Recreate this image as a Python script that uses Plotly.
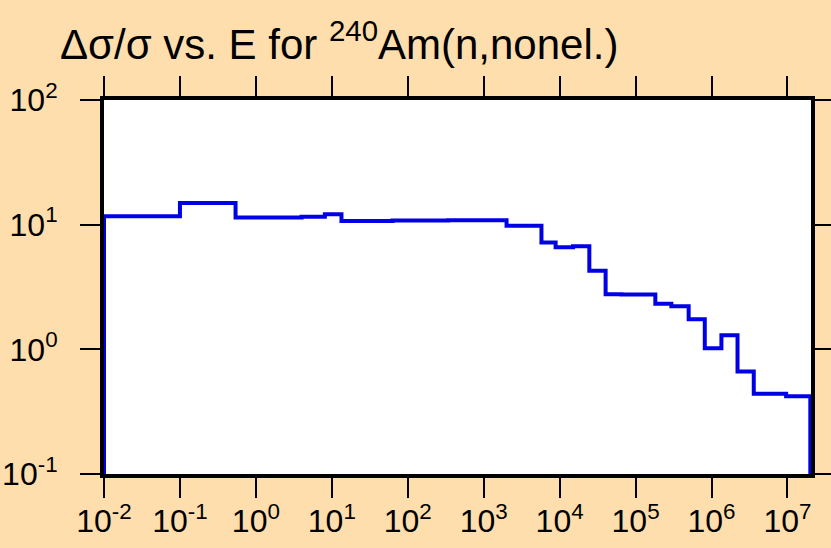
import plotly.graph_objects as go

# Energy bin edges (eV) and relative uncertainty values (%) per bin
energy_edges = [1e-2, 0.1, 0.54, 4.0, 8.1, 13.4, 63.0, 340.0, 2.0e3, 5.76e3, 8.85e3,
                1.5e4, 2.46e4, 4.03e4, 6.5e4, 1.82e5, 2.96e5, 5.0e5, 8.15e5,
                1.35e6, 2.2e6, 3.6e6, 9.6e6, 2.0e7]
rel_unc = [11.7, 14.9, 11.4, 11.6, 12.1, 10.7, 10.8, 10.85, 9.8, 7.2, 6.6,
           6.7, 4.26, 2.77, 2.75, 2.32, 2.22, 1.74, 1.02, 1.30, 0.665, 0.44, 0.42]

x_tickvals = [1e-2, 1e-1, 1e0, 1e1, 1e2, 1e3, 1e4, 1e5, 1e6, 1e7]
x_ticktext = ["10<sup>-2</sup>", "10<sup>-1</sup>", "10<sup>0</sup>", "10<sup>1</sup>",
              "10<sup>2</sup>", "10<sup>3</sup>", "10<sup>4</sup>", "10<sup>5</sup>",
              "10<sup>6</sup>", "10<sup>7</sup>"]
y_tickvals = [1e-1, 1e0, 1e1, 1e2]
y_ticktext = ["10<sup>-1</sup>", "10<sup>0</sup>", "10<sup>1</sup>", "10<sup>2</sup>"]

title_text = "Δσ/σ vs. E for <sup>240</sup>Am(n,nonel.)"

# Build histogram-style step outline, closed down to the axis floor at both ends
y_floor = y_tickvals[0]
xs = [energy_edges[0]]
ys = [y_floor]
for i, v in enumerate(rel_unc):
    xs += [energy_edges[i], energy_edges[i + 1]]
    ys += [v, v]
xs.append(energy_edges[-1])
ys.append(y_floor)

BG = "#FFDEAD"
FONT = "Liberation Sans, Arial, Helvetica, sans-serif"

fig = go.Figure()
fig.add_trace(go.Scatter(x=xs, y=ys, mode="lines",
                         line=dict(color="#0000E6", width=4),
                         hoverinfo="skip", showlegend=False))

fig.update_layout(
    width=831, height=548,
    paper_bgcolor=BG, plot_bgcolor="white",
    margin=dict(l=104, r=20, t=100, b=74, autoexpand=False),
    font=dict(family=FONT, color="black", size=32),
    title=dict(text=title_text, x=60 / 831, xanchor="left", xref="container",
               y=1 - 44 / 548, yanchor="middle", yref="container",
               font=dict(family=FONT, size=42, color="black")),
    showlegend=False,
)
fig.update_xaxes(type="log", range=[-2, 7.31], tickvals=x_tickvals, ticktext=x_ticktext,
                 ticks="outside", ticklen=20, tickwidth=2, tickcolor="black",
                 showline=True, linewidth=4, linecolor="black", mirror="ticks",
                 showgrid=False, zeroline=False, automargin=False, ticklabelstandoff=-4,
                 tickfont=dict(family=FONT, size=32, color="black"))
fig.update_yaxes(type="log", range=[-1, 2], tickvals=y_tickvals, ticktext=y_ticktext,
                 ticks="outside", ticklen=20, tickwidth=2, tickcolor="black",
                 showline=True, linewidth=4, linecolor="black", mirror="ticks",
                 showgrid=False, zeroline=False, ticklabelstandoff=16, automargin=False,
                 tickfont=dict(family=FONT, size=32, color="black"))

fig.write_html(
    "out.html",
    config={"displayModeBar": False},
    post_script="document.body.style.margin='0';document.body.style.background='#FFDEAD';",
)
